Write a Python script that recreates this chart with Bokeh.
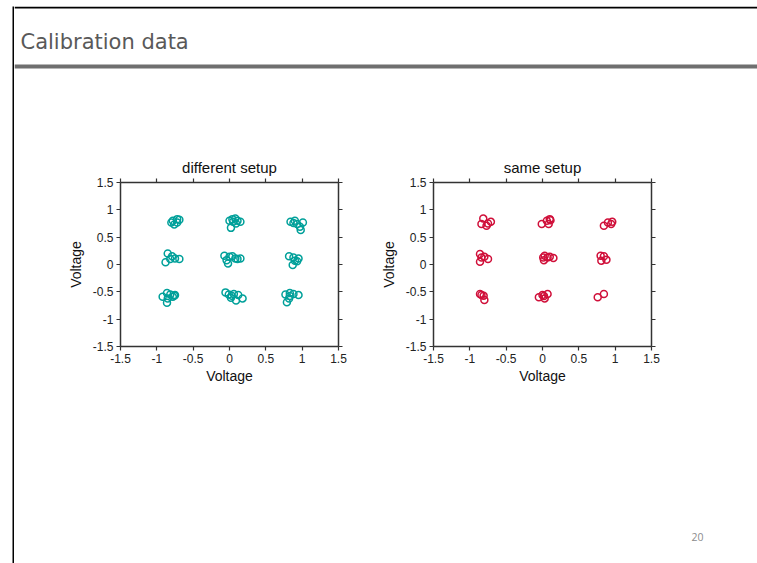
from bokeh.plotting import figure
from bokeh.models import Range1d, BoxAnnotation, Label, LinearAxis, FixedTicker, Spacer
from bokeh.layouts import column, row
from bokeh.embed import file_html
from bokeh.resources import INLINE

# ---------------- data ----------------
slide_title = "Calibration data"
slide_number = "20"
axis_title = "Voltage"
panel_titles = ["different setup", "same setup"]

tick_values = [-1.5, -1, -0.5, 0, 0.5, 1, 1.5]
tick_labels = ["-1.5", "-1", "-0.5", "0", "0.5", "1", "1.5"]

diff_x = [-0.78, -0.72, -0.69, -0.76, -0.72, -0.80,
          0.00, 0.04, 0.08, 0.11, 0.15, 0.09, 0.02, 0.05,
          0.84, 0.90, 0.93, 1.01, 0.97, 0.98, 0.88,
          -0.85, -0.79, -0.75, -0.69, -0.88, -0.815,
          -0.07, 0.00, 0.04, 0.08, 0.15, -0.02, -0.04, 0.11,
          0.82, 0.88, 0.95, 0.90, 0.87, 0.93,
          -0.92, -0.86, -0.815, -0.76, -0.85, -0.86, -0.78, -0.75,
          -0.055, -0.01, 0.03, 0.06, 0.12, 0.09, 0.18, 0.02,
          0.77, 0.83, 0.88, 0.95, 0.82, 0.79, 0.83]
diff_y = [0.80, 0.83, 0.82, 0.73, 0.77, 0.77,
          0.80, 0.83, 0.84, 0.80, 0.78, 0.75, 0.67, 0.78,
          0.78, 0.80, 0.74, 0.77, 0.69, 0.63, 0.76,
          0.20, 0.15, 0.11, 0.10, 0.04, 0.10,
          0.16, 0.14, 0.15, 0.11, 0.11, 0.02, 0.08, 0.10,
          0.15, 0.13, 0.11, 0.07, -0.01, 0.06,
          -0.59, -0.52, -0.55, -0.57, -0.62, -0.70, -0.59, -0.56,
          -0.51, -0.55, -0.57, -0.54, -0.56, -0.66, -0.62, -0.61,
          -0.55, -0.52, -0.54, -0.56, -0.62, -0.69, -0.575]

same_x = [-0.815, -0.84, -0.77, -0.71, -0.75,
          -0.01, 0.06, 0.10, 0.085, 0.11,
          0.845, 0.90, 0.96, 0.945,
          -0.86, -0.84, -0.86, -0.75, -0.80,
          0.01, 0.03, 0.07, 0.15, 0.02, 0.10,
          0.80, 0.845, 0.81, 0.88,
          -0.86, -0.81, -0.80, -0.84,
          -0.05, 0.00, 0.03, 0.07, 0.02,
          0.76, 0.845]
same_y = [0.84, 0.74, 0.71, 0.78, 0.75,
          0.74, 0.80, 0.83, 0.74, 0.81,
          0.71, 0.77, 0.78, 0.74,
          0.19, 0.13, 0.05, 0.10, 0.14,
          0.13, 0.16, 0.13, 0.12, 0.08, 0.14,
          0.16, 0.15, 0.07, 0.085,
          -0.54, -0.57, -0.65, -0.56,
          -0.60, -0.56, -0.62, -0.54, -0.575,
          -0.60, -0.54]

TEAL = "#00a09a"
RED = "#d0103a"
AXIS_COL = "#333333"
FONT = "Liberation Sans"

W_IN = 743
H_TOP, H_HEAD, H_MID, H_FOOT = 6, 74, 320, 163


def deco_fig(w, h):
    f = figure(width=w, height=h, x_range=Range1d(0, w), y_range=Range1d(h, 0),
               output_backend="svg", toolbar_location=None, title=None,
               x_axis_location=None, y_axis_location=None, min_border=0)
    f.outline_line_color = None
    f.xgrid.visible = False
    f.ygrid.visible = False
    f.background_fill_color = "white"
    f.border_fill_color = "white"
    return f


# header (top rule, slide title, grey bar)
head = deco_fig(W_IN, H_HEAD)
head.add_layout(BoxAnnotation(left=0, right=W_IN, top=0, bottom=2, fill_color="black",
                              fill_alpha=1, line_color=None))
head.add_layout(BoxAnnotation(left=0, right=W_IN, top=58, bottom=62, fill_color="#6f6f6f",
                              fill_alpha=1, line_color=None))
head.add_layout(Label(x=6, y=35, text=slide_title, text_baseline="middle",
                      text_font="DejaVu Sans", text_font_size="21px", text_color="#595959"))

# left black rule of the slide
vrule = figure(width=2, height=H_HEAD + H_MID + H_FOOT, output_backend="svg",
               toolbar_location=None, title=None, x_axis_location=None,
               y_axis_location=None, min_border=0)
vrule.outline_line_color = None
vrule.xgrid.visible = False
vrule.ygrid.visible = False
vrule.background_fill_color = "black"
vrule.border_fill_color = "black"

# footer
foot = deco_fig(W_IN, H_FOOT)
foot.add_layout(Label(x=683, y=136, text=slide_number, text_baseline="middle",
                      text_align="center", text_font="Open Sans",
                      text_font_size="10.5px", text_color="#8c8c8c"))


def style_axis(ax, labels=True):
    ax.ticker = FixedTicker(ticks=tick_values)
    ax.major_label_overrides = {v: l for v, l in zip(tick_values, tick_labels)}
    ax.axis_line_color = AXIS_COL
    ax.axis_line_width = 1.5
    ax.major_tick_line_color = AXIS_COL
    ax.major_tick_line_width = 1.2
    ax.major_tick_in = 0
    ax.major_tick_out = 4
    ax.minor_tick_line_color = None
    ax.major_label_text_font = FONT
    ax.major_label_text_font_size = "12px" if labels else "1px"
    ax.major_label_text_color = "#222222" if labels else None
    ax.major_label_standoff = 3 if labels else 0
    ax.axis_label_text_font = FONT
    ax.axis_label_text_font_size = "14px"
    ax.axis_label_text_font_style = "normal"
    ax.axis_label_text_color = "#111111"


def make_plot(title, xs, ys, color, min_left, min_right):
    p = figure(frame_width=218, frame_height=164, min_border_left=min_left,
               min_border_right=min_right, min_border_top=102, min_border_bottom=54,
               x_range=Range1d(-1.5, 1.5), y_range=Range1d(-1.5, 1.5),
               output_backend="svg", toolbar_location=None, title=title,
               x_axis_label=axis_title, y_axis_label=axis_title)
    p.outline_line_color = None
    p.xgrid.visible = False
    p.ygrid.visible = False
    p.title.align = "center"
    p.title.text_font = FONT
    p.title.text_font_size = "15px"
    p.title.text_font_style = "normal"
    p.title.text_color = "#111111"
    p.title.standoff = 6
    style_axis(p.xaxis[0])
    style_axis(p.yaxis[0])
    p.xaxis[0].axis_label_standoff = 2
    p.yaxis[0].axis_label_standoff = 6
    top = LinearAxis()
    style_axis(top, labels=False)
    right = LinearAxis()
    style_axis(right, labels=False)
    p.add_layout(top, "above")
    p.add_layout(right, "right")
    p.scatter(xs, ys, marker="circle", size=7, fill_color=None,
              line_color=color, line_width=1.5)
    return p


p1 = make_plot(panel_titles[0], diff_x, diff_y, TEAL, 106, 35)
p2 = make_plot(panel_titles[1], same_x, same_y, RED, 60, 106)

inner = column(head, row(p1, p2, spacing=0), foot, spacing=0)
body = row(Spacer(width=12, height=H_HEAD + H_MID + H_FOOT), vrule, inner, spacing=0)
layout = column(Spacer(width=12 + 2 + W_IN, height=H_TOP), body, spacing=0)

open("out.html", "w").write(file_html(layout, INLINE))
